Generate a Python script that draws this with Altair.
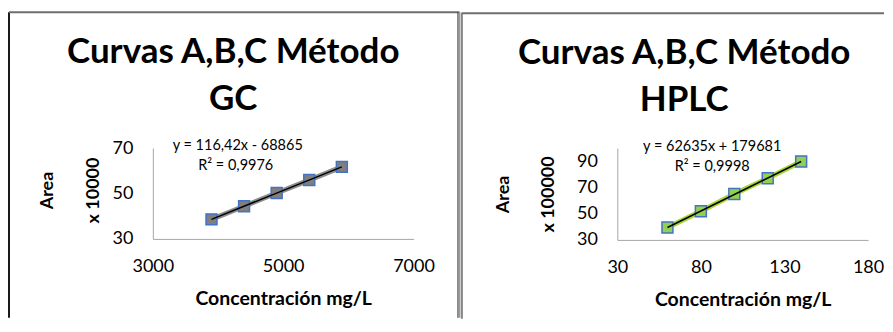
import altair as alt
import pandas as pd

# ---- data ----
gc_conc = [3900, 4400, 4900, 5400, 5900]
gc_area = [38.6, 44.4, 50.2, 55.9, 61.7]          # x 10000
hplc_conc = [60, 80, 100, 120, 140]
hplc_area = [39.4, 51.8, 65.0, 77.0, 89.7]         # x 100000

gc_title = ["Curvas A,B,C Método", "GC"]
hplc_title = ["Curvas A,B,C Método", "HPLC"]
gc_eq = ["y = 116,42x - 68865", "R² = 0,9976"]
hplc_eq = ["y = 62635x + 179681", "R² = 0,9998"]
x_title = "Concentración mg/L"
gc_y_title = ["Area", "x 10000"]
hplc_y_title = ["Area", "x 100000"]

gc_xticks = [3000, 5000, 7000]
gc_yticks = [30, 50, 70]
hplc_xticks = [30, 80, 130, 180]
hplc_yticks = [30, 50, 70, 90]

FONT = "Lato"
one = pd.DataFrame({"k": [0]})


def panel(conc, area, xdom, ydom, xticks, yticks, title, eq, ytitle,
          fill, linecol, W, H, geo):
    df = pd.DataFrame({"conc": conc, "area": area})
    x = alt.X("conc:Q", scale=alt.Scale(domain=xdom, nice=False, zero=False),
              axis=alt.Axis(values=xticks, tickCount=len(xticks), format="d", grid=False,
                            ticks=False, tickSize=0,
                            labelPadding=28, labelBaseline="middle", labelFontSize=18,
                            labelFlush=False, labelOverlap=False,
                            labelFont=FONT, labelColor="black", domainColor="#a6a6a6",
                            title=x_title, titleFont=FONT, titleFontSize=19.5, titleFontWeight="bold",
                            titleColor="black", titleY=geo["xty"], titleBaseline="middle"))
    y = alt.Y("area:Q", scale=alt.Scale(domain=ydom, nice=False, zero=False),
              axis=alt.Axis(values=yticks, tickCount=len(yticks), format="d", grid=False,
                            ticks=False, tickSize=0,
                            labelPadding=20, labelFontSize=18, labelFont=FONT,
                            labelOverlap=False, labelFlush=False, labelBound=False,
                            labelColor="black", domainColor="#a6a6a6",
                            title=ytitle, titleFont=FONT, titleFontSize=18,
                            titleFontWeight="bold", titleColor="black",
                            titleX=geo["ytx"], titleY=geo["yty"], titleAlign="center",
                            titleBaseline="middle", titleLineHeight=geo["ylh"], titleAngle=270))
    base = alt.Chart(df)
    thick = base.mark_line(color=linecol, strokeWidth=5).encode(x=x, y=y)
    pts = base.mark_square(size=120, color=fill, stroke="#4472c4", strokeWidth=1.5,
                           opacity=1).encode(x=x, y=y)
    reg = base.transform_regression("conc", "area").mark_line(
        color="black", strokeWidth=1.5).encode(x="conc:Q", y="area:Q")

    d = alt.Chart(one)
    layers = [thick, pts, reg]
    # titles / labels
    layers.append(d.mark_text(font=FONT, fontSize=35, fontWeight="bold", color="black",
                              lineHeight=47, align="center", baseline="middle").encode(
        x=alt.value(geo["tx"]), y=alt.value(geo["ty"]), text=alt.value(title)))
    layers.append(d.mark_text(font=FONT, fontSize=14.5, color="black", align="center",
                              baseline="middle").encode(
        x=alt.value(geo["e1x"]), y=alt.value(geo["e1y"]), text=alt.value(eq[0])))
    layers.append(d.mark_text(font=FONT, fontSize=14.5, color="black", align="center",
                              baseline="middle").encode(
        x=alt.value(geo["e2x"]), y=alt.value(geo["e2y"]), text=alt.value(eq[1])))
    # chart-area borders
    for r in geo["rules"]:
        kw = dict(color=r["c"], strokeWidth=r["w"])
        if r["t"] == "v":
            layers.append(d.mark_rule(**kw).encode(x=alt.value(r["x"]),
                                                   y=alt.value(r["y1"]), y2=alt.value(r["y2"])))
        else:
            layers.append(d.mark_rule(**kw).encode(y=alt.value(r["y"]),
                                                   x=alt.value(r["x1"]), x2=alt.value(r["x2"])))
    return alt.layer(*layers).properties(width=W, height=H)


left = panel(gc_conc, gc_area, [3000, 7000], [30, 70], gc_xticks, gc_yticks,
             gc_title, gc_eq, gc_y_title, "#7f7f7f", "#8c8c8c", 261, 91,
             dict(xty=60, ytx=-105, yty=42, ylh=46, tx=80.5, ty=-96,
                  e1x=85, e1y=-2, e2x=83, e2y=18,
                  rules=[dict(t="v", x=-144, y1=-136, y2=170, c="#1a1a1a", w=2),
                         dict(t="h", y=-136, x1=-144, x2=307, c="#6e6e6e", w=2),
                         dict(t="v", x=305.5, y1=-136, y2=170, c="#1a1a1a", w=1),
                         dict(t="v", x=307, y1=-136, y2=170, c="#9a9a9a", w=2)]))

right = panel(hplc_conc, hplc_area, [30, 180], [30, 100], hplc_xticks, hplc_yticks,
              hplc_title, hplc_eq, hplc_y_title, "#92d050", "#a6d43a", 251, 92,
              dict(xty=60, ytx=-114, yty=46, ylh=45, tx=67, ty=-95,
                   e1x=95, e1y=-1, e2x=95, e2y=19,
                   rules=[dict(t="v", x=-155.5, y1=-135, y2=171, c="#1a1a1a", w=1),
                          dict(t="h", y=-135, x1=-156, x2=267, c="#6e6e6e", w=2)]))

chart = alt.hconcat(left, right, spacing=0).properties(
    padding={"left": 0, "top": 3, "right": 0, "bottom": 0},
    background="white",
).configure_view(stroke=None).configure_axis(labelOverlap=False)

chart.save("out.html", embed_options={"renderer": "svg", "actions": False})
